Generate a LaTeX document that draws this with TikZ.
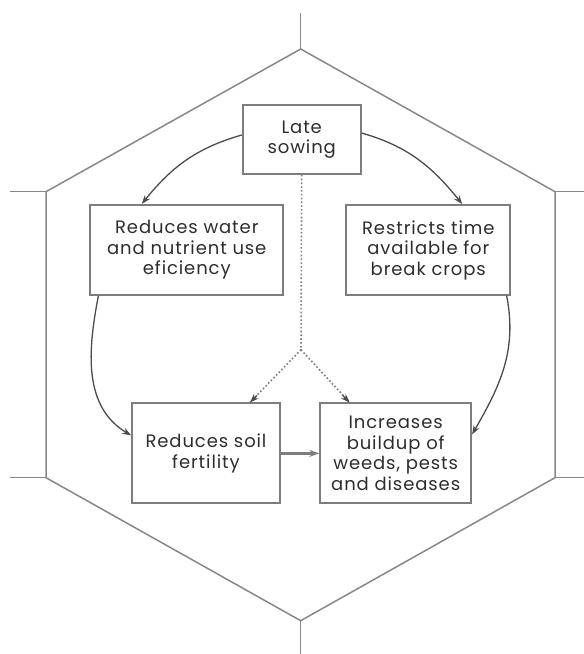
\documentclass[tikz,border=0pt]{standalone}
\usepackage{fontspec}
\setmainfont{Poppins}[LetterSpace=5]
\usetikzlibrary{arrows.meta}
\definecolor{hexgrey}{RGB}{135,135,135}
\definecolor{boxgrey}{RGB}{125,125,125}
\definecolor{arrgrey}{RGB}{75,75,75}
\definecolor{txtgrey}{RGB}{45,45,45}

\begin{document}
\begin{tikzpicture}[x=1pt,y=1pt,
  box/.style={draw=boxgrey,line width=1.8pt,align=center,text=txtgrey,inner sep=0pt,
    font=\fontsize{18}{20.5}\selectfont},
  arr/.style={arrgrey,line width=1.3pt,-{Stealth[length=9pt,width=6.5pt]}},
  dots/.style={boxgrey,line width=1.6pt,dash pattern=on 1.6pt off 2.2pt}]
\useasboundingbox (0,0) rectangle (584,654);
\draw [hexgrey,line width=1.5pt] (300.7,605)--(46,462.3)--(46,176.3)--(300.7,33.3)--(555,176.3)--(555,462.3)--cycle;
\draw [hexgrey,line width=1.5pt] (300.7,605)--(300.7,641.3);
\draw [hexgrey,line width=1.5pt] (300.7,33.3)--(300.7,0);
\draw [hexgrey,line width=1.5pt] (10,462.3)--(46,462.3);
\draw [hexgrey,line width=1.5pt] (10,176.3)--(46,176.3);
\draw [hexgrey,line width=1.5pt] (555,462.3)--(584,462.3);
\draw [hexgrey,line width=1.5pt] (555,176.3)--(584,176.3);
\node [box,minimum width=118pt,minimum height=69pt] (late) at (301.7,514.5) {Late\\sowing};
\node [box,minimum width=193pt,minimum height=90pt] (water) at (186.8,404.2) {Reduces water\\and nutrient use\\eficiency};
\node [box,minimum width=164pt,minimum height=90pt] (time) at (428.3,404) {Restricts time\\available for\\break crops};
\node [box,minimum width=148pt,minimum height=100pt] (soil) at (206,200.6) {Reduces soil\\fertility};
\node [box,minimum width=151pt,minimum height=100pt] (weeds) at (395.7,200.6) {Increases\\buildup of\\weeds, pests\\and diseases};
\coordinate (split) at (301,304.3);
\draw [arr] ([yshift=4.5pt]late.west) to[out=196,in=51] ([xshift=-45pt]water.north);
\draw [arr] ([yshift=6.5pt]late.east) to[out=-16,in=129] ([xshift=34pt]time.north);
\draw [arr] ([xshift=9pt]water.south west) to[out=259,in=149] ([yshift=18pt]soil.west);
\draw [arr] ([xshift=-4.5pt]time.south east) to[out=281,in=60] ([yshift=19pt]weeds.east);
\draw [dots] (late.south) -- (split);
\draw [dots] (split) -- ([xshift=44pt]soil.north);
\draw [dots] (split) -- ([xshift=-46pt]weeds.north);
\draw [arr] ([xshift=44pt]soil.north) ++(7,7) -- ([xshift=44pt]soil.north);
\draw [arr] ([xshift=-46pt]weeds.north) ++(-7,7) -- ([xshift=-46pt]weeds.north);
\draw [boxgrey,line width=2.6pt,-{Stealth[length=10pt,width=7pt]}] (soil.east) -- (weeds.west);
\end{tikzpicture}
\end{document}
